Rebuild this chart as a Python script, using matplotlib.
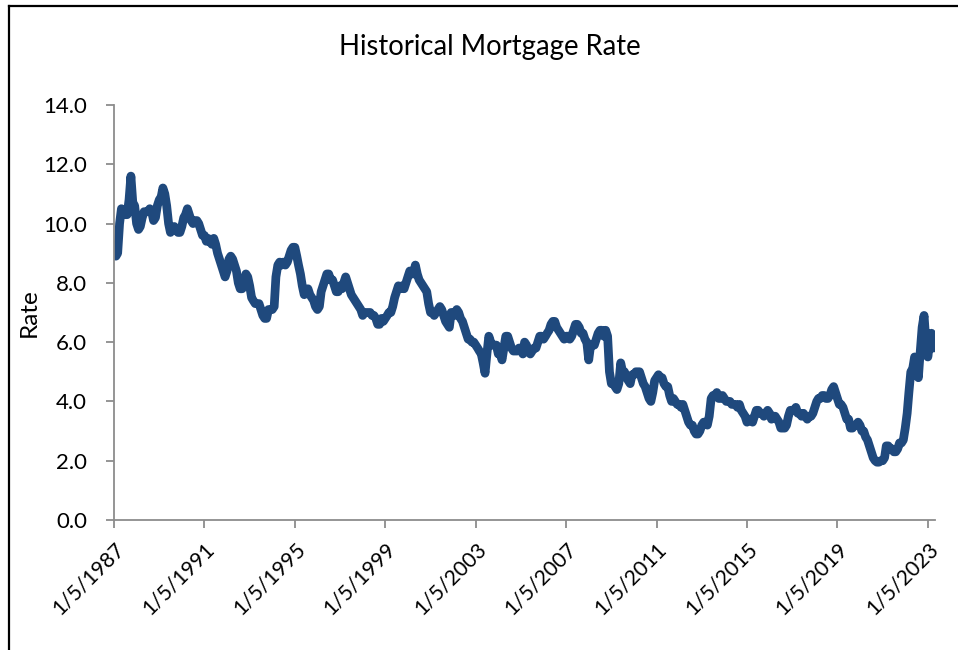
import matplotlib
matplotlib.use("Agg")
import matplotlib.pyplot as plt
from matplotlib.lines import Line2D
import pandas as pd

# Monthly average rates (%), January through December of each year
rates_1987_1989 = [
    9.0, 8.9, 9.0, 10.0, 10.5, 10.4, 10.3, 10.3, 10.8, 11.6, 10.7, 10.6,
    10.0, 9.8, 9.9, 10.2, 10.4, 10.4, 10.4, 10.5, 10.4, 10.1, 10.2, 10.6,
    10.8, 10.9, 11.2, 11.0, 10.6, 10.0, 9.7, 9.8, 9.9, 9.8, 9.7, 9.7,
]
rates_1990s = [
    9.9, 10.2, 10.3, 10.5, 10.3, 10.1, 10.0, 10.1, 10.1, 10.0, 9.8, 9.6,
    9.6, 9.4, 9.5, 9.4, 9.3, 9.5, 9.3, 9.0, 8.8, 8.6, 8.4, 8.2,
    8.4, 8.8, 8.9, 8.8, 8.6, 8.4, 8.0, 7.8, 7.8, 8.0, 8.3, 8.2,
    7.9, 7.5, 7.4, 7.3, 7.3, 7.3, 7.1, 6.9, 6.8, 6.8, 7.1, 7.1,
    7.1, 7.2, 8.2, 8.6, 8.7, 8.6, 8.7, 8.6, 8.7, 8.9, 9.1, 9.2,
    9.2, 8.9, 8.6, 8.3, 7.9, 7.6, 7.7, 7.8, 7.6, 7.5, 7.4, 7.2,
    7.1, 7.2, 7.7, 7.9, 8.1, 8.3, 8.3, 8.1, 8.1, 7.9, 7.7, 7.7,
    7.9, 7.8, 8.0, 8.2, 8.0, 7.8, 7.6, 7.5, 7.4, 7.3, 7.2, 7.1,
    6.9, 7.0, 7.0, 7.0, 7.0, 6.9, 6.9, 6.8, 6.6, 6.6, 6.8, 6.7,
    6.8, 6.9, 7.0, 7.0, 7.2, 7.5, 7.7, 7.9, 7.8, 7.9, 7.8, 8.0,
]
rates_2000s = [
    8.2, 8.4, 8.3, 8.3, 8.6, 8.3, 8.1, 8.0, 7.9, 7.8, 7.7, 7.3,
    7.0, 7.0, 6.9, 7.0, 7.1, 7.2, 7.1, 6.9, 6.7, 6.6, 6.5, 7.0,
    7.0, 6.9, 7.1, 7.0, 6.8, 6.7, 6.5, 6.3, 6.1, 6.1, 6.0, 6.0,
    5.9, 5.8, 5.7, 5.6, 5.3, 4.95, 5.6, 6.2, 6.0, 5.9, 5.9, 5.9,
    5.6, 5.6, 5.4, 5.8, 6.2, 6.2, 6.0, 5.8, 5.7, 5.7, 5.7, 5.8,
    5.8, 5.6, 6.0, 5.9, 5.7, 5.6, 5.7, 5.8, 5.8, 6.0, 6.2, 6.2,
    6.1, 6.2, 6.3, 6.4, 6.6, 6.7, 6.7, 6.5, 6.4, 6.3, 6.2, 6.1,
    6.2, 6.2, 6.1, 6.2, 6.4, 6.6, 6.6, 6.5, 6.3, 6.3, 6.1, 6.0,
    5.4, 5.9, 5.9, 5.9, 6.1, 6.3, 6.4, 6.4, 6.2, 6.4, 6.2, 5.0,
    4.6, 4.6, 4.5, 4.4, 4.6, 5.3, 5.0, 5.0, 4.8, 4.7, 4.6, 4.9,
]
rates_2010s = [
    4.9, 5.0, 5.0, 5.0, 4.8, 4.6, 4.5, 4.3, 4.1, 4.0, 4.3, 4.7,
    4.8, 4.9, 4.8, 4.8, 4.6, 4.5, 4.5, 4.2, 4.0, 4.1, 4.0, 3.9,
    3.9, 3.8, 3.9, 3.7, 3.5, 3.3, 3.2, 3.2, 3.0, 2.9, 2.9, 3.0,
    3.2, 3.3, 3.3, 3.2, 3.5, 4.1, 4.2, 4.2, 4.3, 4.1, 4.1, 4.2,
    4.1, 4.0, 4.0, 4.0, 3.9, 3.9, 3.9, 3.8, 3.9, 3.7, 3.6, 3.5,
    3.3, 3.4, 3.4, 3.3, 3.5, 3.7, 3.7, 3.6, 3.6, 3.5, 3.6, 3.7,
    3.6, 3.4, 3.5, 3.5, 3.4, 3.3, 3.1, 3.1, 3.1, 3.2, 3.5, 3.7,
    3.7, 3.7, 3.8, 3.6, 3.6, 3.5, 3.6, 3.5, 3.4, 3.5, 3.5, 3.6,
    3.8, 4.0, 4.1, 4.1, 4.2, 4.2, 4.1, 4.1, 4.2, 4.4, 4.5, 4.3,
    4.1, 3.9, 3.9, 3.8, 3.6, 3.4, 3.4, 3.1, 3.1, 3.2, 3.2, 3.3,
]
rates_2020s = [
    3.2, 3.0, 3.0, 2.8, 2.7, 2.5, 2.3, 2.1, 2.0, 1.95, 1.95, 2.0,
    2.0, 2.1, 2.5, 2.5, 2.4, 2.4, 2.3, 2.3, 2.4, 2.6, 2.6, 2.7,
    3.1, 3.6, 4.3, 5.0, 5.1, 5.5, 5.3, 4.8, 5.7, 6.5, 6.9, 6.0,
    5.5, 6.0, 6.3, 5.8,
]

rates = rates_1987_1989 + rates_1990s + rates_2000s + rates_2010s + rates_2020s

tick_years = [1987, 1991, 1995, 1999, 2003, 2007, 2011, 2015, 2019, 2023]
y_ticks = [0, 2, 4, 6, 8, 10, 12, 14]

dates = pd.date_range("1987-01-05", periods=len(rates), freq=pd.DateOffset(months=1))
tick_dates = [pd.Timestamp(year=y, month=1, day=5) for y in tick_years]

fig = plt.figure(figsize=(9.58, 6.5), dpi=100)
ax = fig.add_axes([0.119, 0.2, 0.857, 0.6385])

line_color = "#1F497D"
ax.plot(dates, rates, color=line_color, linewidth=6.3,
        solid_joinstyle="round", solid_capstyle="round")

ax.set_xlim(pd.Timestamp("1987-01-05"), pd.Timestamp("2023-05-01"))
ax.set_ylim(0, 14)
ax.set_yticks(y_ticks)
ax.set_yticklabels([f"{v:.1f}" for v in y_ticks])
ax.set_xticks(tick_dates)
ax.set_xticklabels([f"{d.month}/{d.day}/{d.year}" for d in tick_dates],
                   rotation=45, ha="right", rotation_mode="anchor")

font = "Lato"
for lbl in ax.get_yticklabels():
    lbl.set_fontfamily(font)
    lbl.set_fontsize(16)
    lbl.set_color("black")
for lbl in ax.get_xticklabels():
    lbl.set_fontfamily(font)
    lbl.set_fontsize(15.2)
    lbl.set_color("black")

axis_gray = "#8C8C8C"
for side in ("top", "right"):
    ax.spines[side].set_visible(False)
for side in ("left", "bottom"):
    ax.spines[side].set_color(axis_gray)
    ax.spines[side].set_linewidth(1.3)
ax.tick_params(axis="both", direction="out", length=5.5, width=1.3,
               color=axis_gray)
ax.tick_params(axis="y", pad=14)
ax.tick_params(axis="x", pad=8)

ax.set_ylabel("Rate", fontfamily=font, fontsize=17.5)
ax.yaxis.set_label_coords(-0.090, 0.5)
fig.text(0.511, 0.927, "Historical Mortgage Rate", ha="center", va="center",
         fontfamily=font, fontsize=19.8)

# Chart border (left and top edges)
fig.add_artist(Line2D([8.5 / 958, 8.5 / 958], [0, 1 - 5.5 / 650],
                      transform=fig.transFigure, color="black", linewidth=1.6))
fig.add_artist(Line2D([8.5 / 958, 1], [1 - 5.5 / 650, 1 - 5.5 / 650],
                      transform=fig.transFigure, color="black", linewidth=1.6))

fig.savefig("out.png", dpi=100)
